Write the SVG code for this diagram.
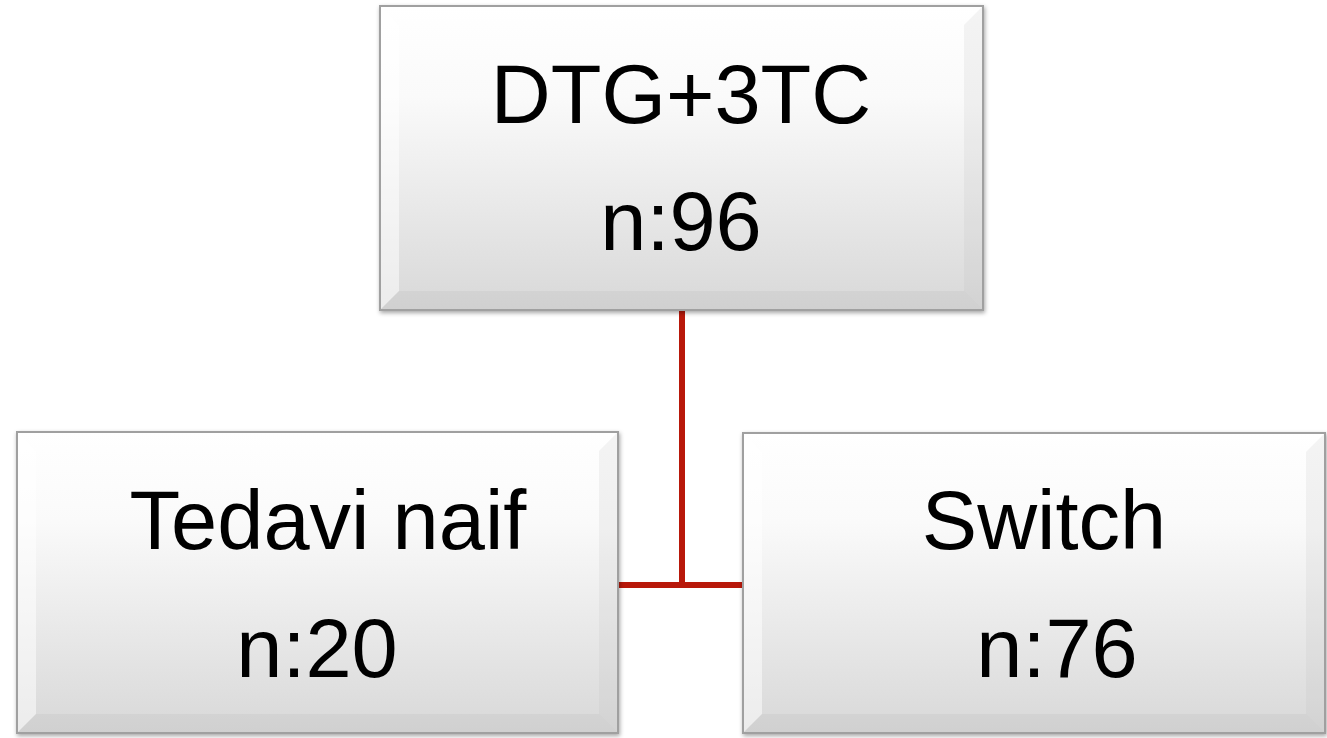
<svg xmlns="http://www.w3.org/2000/svg" width="1327" height="738" viewBox="0 0 1327 738">
  <defs>
    <linearGradient id="fill" x1="0" y1="0" x2="0" y2="1">
      <stop offset="0" stop-color="#ffffff"/>
      <stop offset="0.3" stop-color="#fafafa"/>
      <stop offset="1" stop-color="#d8d8d8"/>
    </linearGradient>
    <filter id="shadow" x="-5%" y="-5%" width="110%" height="110%">
      <feDropShadow dx="1" dy="2" stdDeviation="2" flood-color="#000" flood-opacity="0.35"/>
    </filter>
  </defs>
  <style>
    .box { fill: url(#fill); stroke: #a0a0a0; stroke-width: 2; filter: url(#shadow); }
    .bevL { fill: #ffffff; opacity: 0.5; }
    .bevR { fill: #b8b8b8; opacity: 0.15; }
    .bevB { fill: #a8a8a8; opacity: 0.15; }
    .lbl { font-family: "Liberation Sans", Arial, sans-serif; font-size: 83px; fill: #000; text-anchor: middle; }
    .conn { fill: none; stroke: #b8180a; stroke-width: 6; }
  </style>
  <rect width="1327" height="738" fill="#ffffff"/>

  <g id="connectors">
    <path class="conn" d="M682 310 V585"/>
    <path class="conn" d="M618 585 H743"/>
  </g>

  <g id="node-top">
    <rect class="box" x="380" y="6" width="603" height="304"/>
    <polygon class="bevL" points="381,7 399,25 399,291 381,309"/>
    <polygon class="bevR" points="982,7 964,25 964,291 982,309"/>
    <polygon class="bevB" points="381,309 399,291 964,291 982,309"/>
    <text class="lbl" x="681" y="123">DTG+3TC</text>
    <text class="lbl" x="681" y="250">n:96</text>
  </g>

  <g id="node-left">
    <rect class="box" x="17" y="432" width="601" height="301"/>
    <polygon class="bevL" points="18,433 36,451 36,714 18,732"/>
    <polygon class="bevR" points="617,433 599,451 599,714 617,732"/>
    <polygon class="bevB" points="18,732 36,714 599,714 617,732"/>
    <text class="lbl" x="328" y="549">Tedavi naif</text>
    <text class="lbl" x="317" y="677">n:20</text>
  </g>

  <g id="node-right">
    <rect class="box" x="743" y="433" width="582" height="300"/>
    <polygon class="bevL" points="744,434 762,452 762,714 744,732"/>
    <polygon class="bevR" points="1324,434 1306,452 1306,714 1324,732"/>
    <polygon class="bevB" points="744,732 762,714 1306,714 1324,732"/>
    <text class="lbl" x="1044" y="549">Switch</text>
    <text class="lbl" x="1057" y="677">n:76</text>
  </g>
</svg>
